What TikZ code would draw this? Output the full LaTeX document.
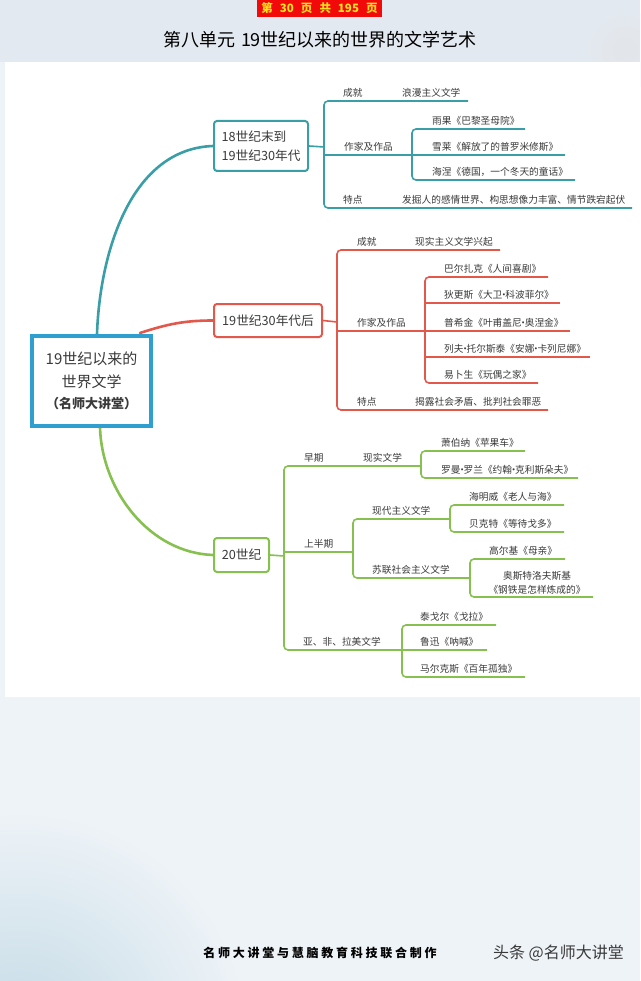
\documentclass[tikz,border=0pt]{standalone}
\usepackage{fontspec}
\setmainfont{Noto Sans CJK SC}
\usetikzlibrary{calc}
\definecolor{teal1}{HTML}{3A9EA7}
\definecolor{red1}{HTML}{E2594C}
\definecolor{green1}{HTML}{86C04E}
\definecolor{rootblue}{HTML}{2E9FCF}
\definecolor{txt}{HTML}{3A3A3A}
\definecolor{bg}{HTML}{EEF3F7}
\definecolor{topbg}{HTML}{E3E9F0}
\definecolor{wash}{HTML}{C3DAE6}
\definecolor{hdrred}{HTML}{F20A0A}
\definecolor{hdryel}{HTML}{F8E21A}
\newcommand\fsp{\hspace{2.75pt}}
\newcommand\mdot{\makebox[3pt][c]{·}}
\tikzset{
  lbl/.style={anchor=west, inner sep=0pt, text=txt, font=\fontsize{9.7}{11}\selectfont},
  bx/.style={draw, line width=2pt, rounded corners=3pt, fill=white, inner sep=0pt, text=txt, font=\fontsize{12.7}{19}\selectfont},
  conn/.style={line width=2.6pt, line cap=round},
  lnT/.style={draw=teal1, line width=1.6pt, rounded corners=4pt},
  lnR/.style={draw=red1, line width=1.6pt, rounded corners=4pt},
  lnG/.style={draw=green1, line width=1.6pt, rounded corners=4pt}
}
\begin{document}
\begin{tikzpicture}[x=1pt,y=-1pt]
\useasboundingbox (0,0) rectangle (640,981);
\begin{scope}
\clip (0,0) rectangle (640,981);
\fill[bg] (0,0) rectangle (640,981);
\fill[topbg] (0,0) rectangle (640,62);
\shade[inner color=wash, outer color=bg] (20,1040) circle (230pt);
\shade[inner color=topbg!80!gray!60, outer color=topbg] (625,50) circle (40pt);
\fill[white] (5,62) rectangle (640,697);
\end{scope}

% header
\node[fill=hdrred, text=hdryel, inner sep=0pt, minimum width=125, minimum height=17,
      font=\bfseries\fontsize{11.5}{12}\selectfont] (hdr) at (319.5,8.5)
      {第\hspace{7pt}30\hspace{7pt}页\hspace{7pt}共\hspace{7pt}195\hspace{7pt}页};
\node[font=\fontsize{18}{20}\selectfont, text=black, inner sep=0pt] (title) at (320,40)
      {第八单元\hspace{6pt}19世纪以来的世界的文学艺术};

% root
\node[draw=rootblue, line width=4pt, fill=white, minimum width=119, minimum height=90,
      align=center, inner sep=0pt, text=txt, font=\fontsize{15}{23}\selectfont] (root) at (91.5,381)
      {19世纪以来的\\世界文学\\[-2pt]{\bfseries\fontsize{13}{21}\selectfont（名师大讲堂）}};

% level-1 boxes
\node[bx, draw=teal1, minimum width=94, minimum height=50, align=left] (b1) at (261,146)
      {18世纪末到\\19世纪30年代};
\node[bx, draw=red1, minimum width=108, minimum height=33] (b2) at (268,320.5) {19世纪30年代后};
\node[bx, draw=green1, minimum width=55, minimum height=34] (b3) at (241.5,555) {20世纪};

% main connectors
\coordinate (rt) at (97,334);
\coordinate (rr) at (140,333);
\coordinate (rg) at (100,428);
\draw[conn, teal1] (rt) to[out=88, in=182, looseness=0.95] (b1.west);
\draw[conn, red1] (rr) to[out=18, in=180] (b2.west);
\draw[conn, green1] (rg) to[out=-88, in=178, looseness=0.95] (b3.west);
\node[draw=rootblue, line width=4pt, minimum width=119, minimum height=90, inner sep=0pt] (rootframe) at (root.center) {};

% ---------- branch 1
\coordinate (j1) at (324,147);
\coordinate (j1b) at (412,155);
\draw[lnT] (b1.east) -- (j1);
\draw[lnT] (j1) |- (468,101);
\draw[lnT] (j1) |- (632,208);
\draw[lnT] (324,155) -- (j1b);
\draw[lnT] (j1b) |- (525,129);
\draw[lnT] (j1b) -- (565,155);
\draw[lnT] (j1b) |- (575,180);
\node[lbl] (c1) at (343,92.5) {成就};
\node[lbl] (c1t) at (402,92.5) {浪漫主义文学};
\node[lbl] (z1) at (344,146.5) {作家及作品};
\node[lbl] (a11) at (432,120.5) {雨果《巴黎圣母院》};
\node[lbl] (a12) at (432,146.5) {雪莱《解放了的普罗米修斯》};
\node[lbl] (a13) at (432,171.5) {海涅《德国，一个冬天的童话》};
\node[lbl] (t1) at (343,199.5) {特点};
\node[lbl] (t1t) at (402,199.5) {发掘人的感情世界、构思想像力丰富、情节跌宕起伏};

% ---------- branch 2
\coordinate (j2) at (337,322);
\coordinate (j2b) at (425,331);
\draw[lnR] (b2.east) -- (j2);
\draw[lnR] (j2) |- (500,250);
\draw[lnR] (j2) |- (548,410);
\draw[lnR] (337,331) -- (j2b);
\draw[lnR] (j2b) |- (548,277);
\draw[lnR] (425,303) -- (560,303);
\draw[lnR] (j2b) -- (570,331);
\draw[lnR] (425,357) -- (590,357);
\draw[lnR] (j2b) |- (538,383);
\node[lbl] (c2) at (357,241.5) {成就};
\node[lbl] (c2t) at (415,241.5) {现实主义文学兴起};
\node[lbl] (z2) at (357,322.5) {作家及作品};
\node[lbl] (a21) at (444,268.5) {巴尔扎克《人间喜剧》};
\node[lbl] (a22) at (444,294.5) {狄更斯《大卫\mdot 科波菲尔》};
\node[lbl] (a23) at (444,322.5) {普希金《叶甫盖尼\mdot 奥涅金》};
\node[lbl] (a24) at (444,348.5) {列夫\mdot 托尔斯泰《安娜\mdot 卡列尼娜》};
\node[lbl] (a25) at (444,374.5) {易卜生《玩偶之家》};
\node[lbl] (t2) at (357,401.5) {特点};
\node[lbl] (t2t) at (415,401.5) {揭露社会矛盾、批判社会罪恶};

% ---------- branch 3
\coordinate (j3) at (284,556);
\coordinate (j3a) at (421,466);
\coordinate (j3b) at (353,552);
\coordinate (j3c) at (450,519);
\coordinate (j3d) at (470,578);
\coordinate (j3e) at (402,650);
\draw[lnG] (b3.east) -- (j3);
\draw[lnG] (j3) |- (j3a);
\draw[lnG] (j3a) |- (525,451);
\draw[lnG] (j3a) |- (578,478);
\draw[lnG] (284,552) -- (j3b);
\draw[lnG] (j3b) |- (j3c);
\draw[lnG] (j3c) |- (564,505);
\draw[lnG] (j3c) |- (564,532);
\draw[lnG] (j3b) |- (j3d);
\draw[lnG] (j3d) |- (565,559);
\draw[lnG] (j3d) |- (593,597);
\draw[lnG] (j3) |- (487,650);
\draw[lnG] (j3e) |- (496,625);
\draw[lnG] (j3e) |- (525,677);
\node[lbl] (e3) at (304,457.5) {早期};
\node[lbl] (e3t) at (363,457.5) {现实文学};
\node[lbl] (a31) at (441,442.5) {萧伯纳《苹果车》};
\node[lbl] (a32) at (441,469.5) {罗曼\mdot 罗兰《约翰\mdot 克利斯朵夫》};
\node[lbl] (s3) at (304,543.5) {上半期};
\node[lbl] (m3) at (372,510.5) {现代主义文学};
\node[lbl] (a33) at (469,496.5) {海明威《老人与海》};
\node[lbl] (a34) at (469,523.5) {贝克特《等待戈多》};
\node[lbl] (u3) at (372,569.5) {苏联社会主义文学};
\node[lbl] (a35) at (489,550.5) {高尔基《母亲》};
\node[lbl, anchor=center, align=center, font=\fontsize{9.7}{14}\selectfont] (a36) at (537,583)
      {奥斯特洛夫斯基\\《钢铁是怎样炼成的》};
\node[lbl] (y3) at (303,641.5) {亚、非、拉美文学};
\node[lbl] (a37) at (420,616.5) {泰戈尔《戈拉》};
\node[lbl] (a38) at (420,641.5) {鲁迅《呐喊》};
\node[lbl] (a39) at (420,668.5) {马尔克斯《百年孤独》};

% footer
\node[inner sep=0pt, text=black, font=\bfseries\fontsize{12}{14}\selectfont] (foot1) at (320,953)
 {名\fsp 师\fsp 大\fsp 讲\fsp 堂\fsp 与\fsp 慧\fsp 脑\fsp 教\fsp 育\fsp 科\fsp 技\fsp 联\fsp 合\fsp 制\fsp 作};
\node[inner sep=0pt, text=txt, font=\fontsize{16}{18}\selectfont] (foot2) at (558.5,953) {头条 @名师大讲堂};
\end{tikzpicture}
\end{document}
